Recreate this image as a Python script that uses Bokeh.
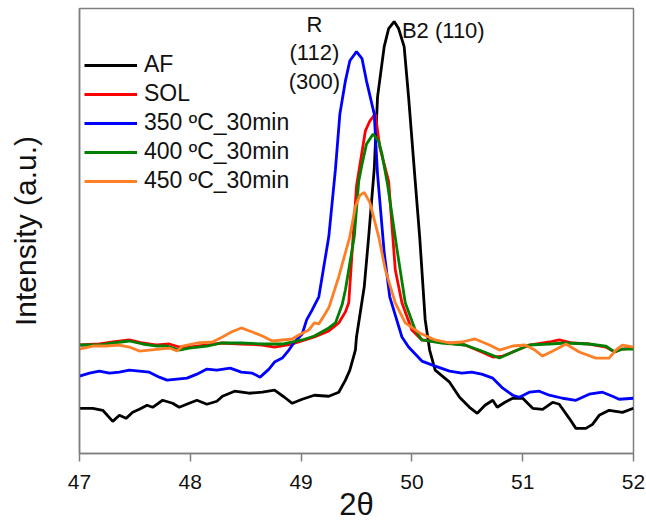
from bokeh.plotting import figure
from bokeh.models import Label, Legend, LegendItem, FixedTicker
from bokeh.embed import file_html
from bokeh.resources import INLINE

# ---- data (2θ in degrees, intensity in a.u.) ----
af_x = [47.00, 47.12, 47.21, 47.30, 47.36, 47.42, 47.48, 47.54, 47.61, 47.66, 47.75, 47.84, 47.90, 47.99,
        48.06, 48.15, 48.24, 48.29, 48.40, 48.53, 48.65, 48.76, 48.85, 48.92, 49.01, 49.12, 49.25, 49.34,
        49.40, 49.44, 49.49, 49.50, 49.57, 49.61, 49.66, 49.69, 49.75, 49.79, 49.84, 49.88, 49.93, 49.97,
        50.03, 50.07, 50.12, 50.16, 50.21, 50.34, 50.43, 50.52, 50.59, 50.66, 50.73, 50.77, 50.84, 50.91,
        51.00, 51.09, 51.18, 51.27, 51.33, 51.42, 51.48, 51.57, 51.63, 51.69, 51.78, 51.90, 52.00]
af_y = [45, 45, 43, 32, 38, 35, 41, 44, 48, 46, 53, 50, 46, 50,
        53, 49, 52, 57, 62, 60, 61, 63, 56, 50, 54, 58, 57, 61,
        73, 83, 103, 116, 166, 216, 283, 355, 405, 423, 430, 423, 405, 355,
        271, 216, 133, 103, 83, 71, 56, 46, 40, 48, 53, 46, 51, 55,
        55, 45, 44, 51, 49, 35, 25, 25, 29, 38, 43, 41, 45]

sol_x = [47.00, 47.18, 47.30, 47.45, 47.57, 47.70, 47.81, 47.90, 47.99, 48.15, 48.28, 48.46, 48.65, 48.76,
         48.92, 49.12, 49.25, 49.34, 49.40, 49.43, 49.46, 49.50, 49.58, 49.62, 49.67, 49.71, 49.79, 49.85,
         49.91, 50.00, 50.09, 50.27, 50.48, 50.63, 50.73, 50.82, 50.91, 51.06, 51.24, 51.33, 51.45, 51.60,
         51.75, 51.83, 51.90, 52.00]
sol_y = [108, 109, 111, 113, 110, 108, 109, 106, 106, 108, 110, 109, 108, 106,
         109, 116, 122, 130, 141, 150, 200, 266, 321, 331, 338, 305, 271, 183,
         150, 123, 113, 111, 108, 101, 96, 97, 101, 108, 111, 113, 110, 109,
         106, 101, 104, 105]

t350_x = [47.00, 47.09, 47.18, 47.27, 47.36, 47.45, 47.54, 47.63, 47.72, 47.79, 47.88, 47.97, 48.06, 48.15,
          48.24, 48.36, 48.46, 48.56, 48.63, 48.71, 48.76, 48.83, 48.89, 48.94, 49.01, 49.05, 49.10, 49.16,
          49.25, 49.31, 49.35, 49.40, 49.44, 49.50, 49.55, 49.59, 49.66, 49.69, 49.75, 49.80, 49.91, 49.97,
          50.09, 50.21, 50.34, 50.45, 50.54, 50.63, 50.73, 50.82, 50.91, 50.97, 51.06, 51.15, 51.24, 51.36,
          51.48, 51.60, 51.72, 51.81, 51.87, 52.00]
t350_y = [77, 80, 82, 80, 81, 83, 82, 81, 76, 73, 74, 75, 79, 84,
          83, 85, 81, 80, 76, 84, 91, 95, 103, 111, 119, 133, 143, 156,
          216, 283, 338, 371, 391, 400, 393, 371, 338, 278, 200, 156, 116, 106,
          92, 87, 82, 80, 81, 79, 75, 65, 58, 56, 61, 62, 58, 55,
          53, 59, 61, 57, 54, 55]

t400_x = [47.00, 47.18, 47.30, 47.45, 47.57, 47.70, 47.79, 47.90, 47.99, 48.15, 48.28, 48.46, 48.65, 48.83,
          49.01, 49.12, 49.25, 49.31, 49.37, 49.40, 49.48, 49.52, 49.55, 49.59, 49.65, 49.70, 49.73, 49.78,
          49.87, 49.94, 50.03, 50.09, 50.27, 50.48, 50.63, 50.79, 50.91, 51.06, 51.24, 51.39, 51.60, 51.75,
          51.83, 51.90, 52.00]
t400_y = [108, 108, 110, 112, 109, 107, 107, 103, 105, 107, 110, 110, 109, 109,
          113, 117, 125, 130, 148, 163, 216, 271, 288, 308, 318, 311, 298, 268,
          200, 150, 123, 113, 110, 108, 102, 95, 101, 108, 109, 110, 109, 107,
          101, 104, 104]

t450_x = [47.00, 47.12, 47.24, 47.36, 47.45, 47.54, 47.63, 47.72, 47.81, 47.88, 47.93, 48.06, 48.20, 48.29,
          48.37, 48.46, 48.56, 48.65, 48.74, 48.83, 48.92, 48.98, 49.07, 49.12, 49.16, 49.25, 49.34, 49.40,
          49.44, 49.49, 49.53, 49.57, 49.62, 49.70, 49.76, 49.85, 49.94, 50.07, 50.21, 50.34, 50.45, 50.57,
          50.70, 50.79, 50.91, 51.02, 51.11, 51.18, 51.29, 51.39, 51.51, 51.66, 51.78, 51.84, 51.90, 52.00]
t450_y = [104, 107, 107, 108, 106, 102, 103, 104, 105, 102, 107, 110, 111, 116,
          121, 125, 121, 117, 112, 113, 114, 118, 123, 130, 129, 145, 176, 200,
          216, 246, 257, 260, 250, 216, 183, 150, 130, 120, 113, 110, 111, 114,
          108, 103, 107, 108, 103, 97, 103, 109, 101, 95, 95, 103, 108, 106]

series_names = ["AF", "SOL", "350 \u00baC_30min", "400 \u00baC_30min", "450 \u00baC_30min"]
series_colors = ["#000000", "#ff0000", "#0000ff", "#008000", "#ff7f27"]
x_ticks = [47, 48, 49, 50, 51, 52]

FONT = "Liberation Sans"
GRAY = "#7f7f7f"

p = figure(width=646, height=529, output_backend="svg", toolbar_location=None,
           x_range=(47, 52), y_range=(0, 443),
           min_border_left=79, min_border_right=13, min_border_top=8, min_border_bottom=76)

p.xgrid.visible = False
p.ygrid.visible = False
p.outline_line_color = GRAY
p.outline_line_width = 1.5
p.background_fill_color = "white"
p.border_fill_color = "white"

# x axis
p.xaxis.ticker = FixedTicker(ticks=x_ticks)
p.xaxis.axis_line_color = GRAY
p.xaxis.axis_line_width = 1.5
p.xaxis.major_tick_line_color = GRAY
p.xaxis.major_tick_line_width = 1.5
p.xaxis.major_tick_in = 0
p.xaxis.major_tick_out = 8
p.xaxis.minor_tick_line_color = None
p.xaxis.major_label_text_font = FONT
p.xaxis.major_label_text_font_size = "21px"
p.xaxis.major_label_text_color = "#111111"
p.xaxis.major_label_standoff = 13
p.xaxis.axis_label = "2\u03b8"
p.xaxis.axis_label_text_font = FONT
p.xaxis.axis_label_text_font_size = "31px"
p.xaxis.axis_label_text_font_style = "normal"
p.xaxis.axis_label_text_color = "#111111"
p.xaxis.axis_label_standoff = -5

# y axis (no ticks)
p.yaxis.ticker = FixedTicker(ticks=[])
p.yaxis.axis_line_color = GRAY
p.yaxis.axis_line_width = 1.5
p.yaxis.major_tick_line_color = None
p.yaxis.minor_tick_line_color = None
p.yaxis.axis_label = "Intensity (a.u.)"
p.yaxis.axis_label_text_font = FONT
p.yaxis.axis_label_text_font_size = "30px"
p.yaxis.axis_label_text_font_style = "normal"
p.yaxis.axis_label_text_color = "#111111"
p.yaxis.axis_label_standoff = 38

xs = [af_x, sol_x, t350_x, t400_x, t450_x]
ys = [af_y, sol_y, t350_y, t400_y, t450_y]
renderers = []
for x, y, c in zip(xs, ys, series_colors):
    r = p.line(x, y, line_color=c, line_width=2.8)
    renderers.append(r)

legend = Legend(items=[LegendItem(label=n, renderers=[r]) for n, r in zip(series_names, renderers)],
                location=(5, 259), padding=0, margin=0, spacing=2,
                glyph_width=53, glyph_height=20, label_standoff=7,
                label_text_font=FONT, label_text_font_size="23px", label_text_color="#111111",
                border_line_color=None, background_fill_alpha=0)
p.add_layout(legend)

for txt, xx, yy, align in [("R", 49.12, 427, "center"), ("(112)", 49.12, 399, "center"),
                           ("(300)", 49.12, 370, "center"), ("B2 (110)", 49.91, 421, "left")]:
    p.add_layout(Label(x=xx, y=yy, text=txt, text_align=align, text_baseline="middle",
                       text_font=FONT, text_font_size="22px", text_color="#111111"))

open("out.html", "w").write(file_html(p, INLINE))
